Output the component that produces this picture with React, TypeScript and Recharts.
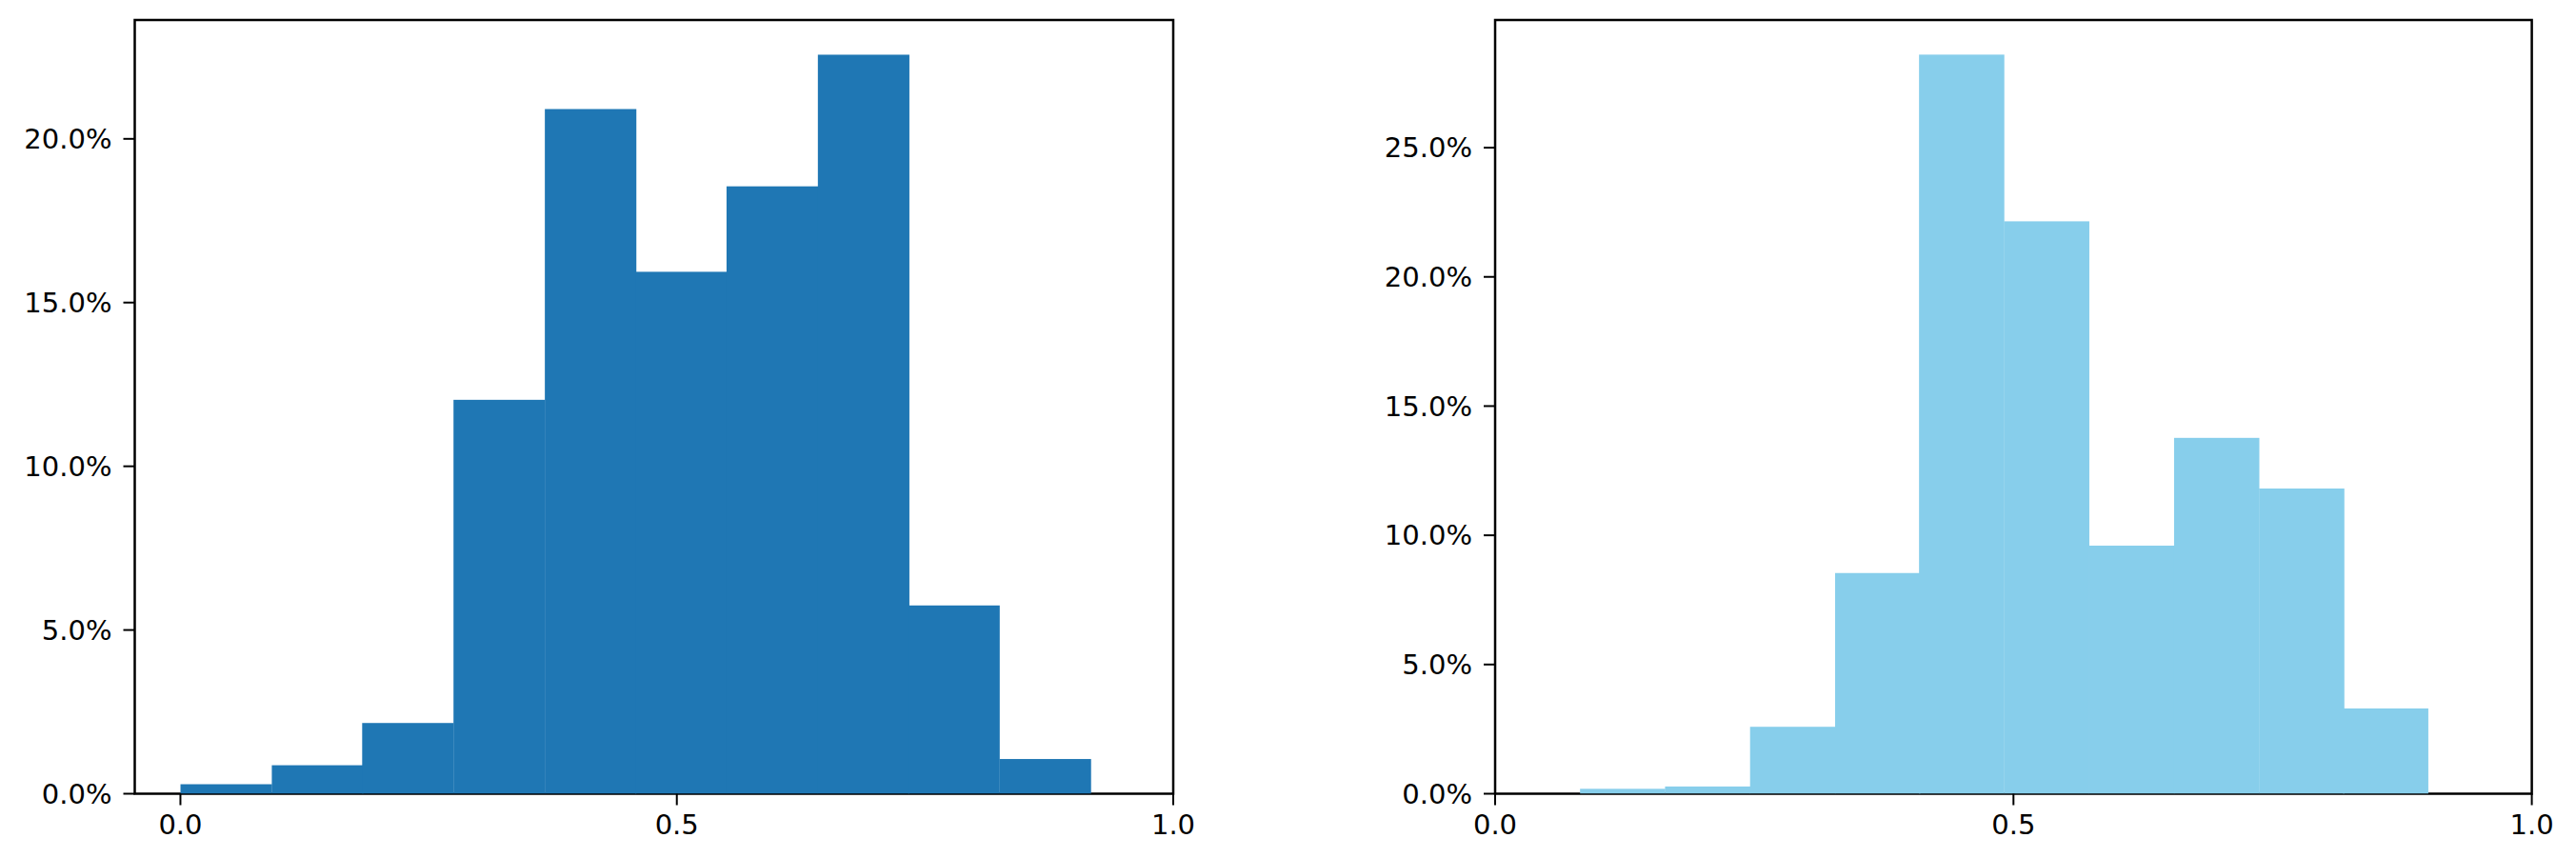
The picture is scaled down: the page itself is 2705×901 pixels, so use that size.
import React from 'react';
import { BarChart, Bar, XAxis, YAxis, ReferenceArea } from 'recharts';

// left histogram: bin starts (x) and share of rows per bin (%)
const leftBinStarts = [0, 0.092, 0.183, 0.275, 0.367, 0.458, 0.55, 0.642, 0.733, 0.825];
const leftBinWidth = 0.0917;
const leftShares = [0.29, 0.87, 2.16, 12.03, 20.91, 15.94, 18.55, 22.57, 5.75, 1.06];

// right histogram
const rightBinStarts = [0.082, 0.164, 0.246, 0.328, 0.409, 0.491, 0.573, 0.655, 0.737, 0.818];
const rightBinWidth = 0.0818;
const rightShares = [0.19, 0.28, 2.59, 8.54, 28.6, 22.15, 9.6, 13.77, 11.81, 3.3];

const xTicks = [0, 0.5, 1.0];
const leftYTicks = [0, 5, 10, 15, 20];
const rightYTicks = [0, 5, 10, 15, 20, 25];

const FONT = 'DejaVu Sans';
const TICK = { fontSize: 29, fill: '#000', fontFamily: FONT };

interface HistProps {
  starts: number[];
  width: number;
  shares: number[];
  color: string;
  xDomain: [number, number];
  yMax: number;
  yTicks: number[];
  left: number;
  chartWidth: number;
  yAxisWidth: number;
  rightMargin: number;
}

function Hist({ starts, width, shares, color, xDomain, yMax, yTicks, left, chartWidth, yAxisWidth, rightMargin }: HistProps) {
  const data = starts.map((s, i) => ({ x: s + width / 2, share: shares[i] }));
  const plotWidth = chartWidth - yAxisWidth - rightMargin;
  // histogram bars fill the whole bin, so size them from the x scale
  const binPx = (width / (xDomain[1] - xDomain[0])) * plotWidth;

  // recharts centres the bar on x; redraw it one bin wide around that centre
  const BinBar = (props: any) => {
    const { x, y, width: w, height: h, fill } = props;
    if (!h || h <= 0) return null;
    const cx = x + w / 2;
    return <rect x={cx - binPx / 2} y={y} width={binPx + 0.5} height={h} fill={fill} />;
  };

  return (
    <div style={{ position: 'absolute', left, top: 0 }}>
      <BarChart
        width={chartWidth}
        height={901}
        data={data}
        margin={{ top: 21, right: rightMargin, bottom: 0, left: 0 }}
        barCategoryGap={0}
      >
        <XAxis
          dataKey="x"
          type="number"
          domain={xDomain}
          ticks={xTicks}
          allowDataOverflow
          tickFormatter={(v) => v.toFixed(1)}
          height={67.5}
          axisLine={false}
          tickLine={{ stroke: '#000', strokeWidth: 2 }}
          tickSize={12}
          tickMargin={10}
          tick={TICK}
          interval={0}
        />
        <YAxis
          type="number"
          domain={[0, yMax]}
          ticks={yTicks}
          allowDataOverflow
          tickFormatter={(v) => `${v.toFixed(1)}%`}
          width={yAxisWidth}
          axisLine={false}
          tickLine={{ stroke: '#000', strokeWidth: 2 }}
          tickSize={12}
          tickMargin={12}
          tick={TICK}
          interval={0}
        />
        <Bar dataKey="share" fill={color} shape={BinBar} isAnimationActive={false} />
        <ReferenceArea
          x1={xDomain[0]}
          x2={xDomain[1]}
          y1={0}
          y2={yMax}
          fill="none"
          fillOpacity={0}
          stroke="#000"
          strokeWidth={2.5}
          ifOverflow="visible"
        />
      </BarChart>
    </div>
  );
}

export default function App() {
  return (
    <div style={{ position: 'absolute', left: 0, top: 0, width: 2705, height: 901, background: '#fff', fontFamily: FONT }}>
      <Hist
        starts={leftBinStarts}
        width={leftBinWidth}
        shares={leftShares}
        color="#1f77b4"
        xDomain={[-0.046, 1.0]}
        yMax={23.63}
        yTicks={leftYTicks}
        left={0}
        chartWidth={1260}
        yAxisWidth={141.5}
        rightMargin={28}
      />
      <Hist
        starts={rightBinStarts}
        width={rightBinWidth}
        shares={rightShares}
        color="#87ceeb"
        xDomain={[0, 1.0]}
        yMax={29.94}
        yTicks={rightYTicks}
        left={1420}
        chartWidth={1285}
        yAxisWidth={150}
        rightMargin={46.4}
      />
    </div>
  );
}
